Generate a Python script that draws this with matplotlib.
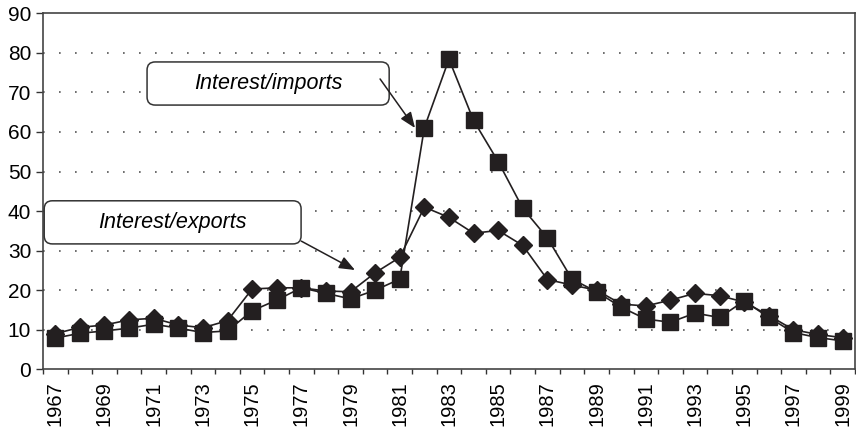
import matplotlib.pyplot as plt
from matplotlib.patches import FancyBboxPatch

years = list(range(1967, 2000))
interest_exports = [9.0, 10.6, 11.2, 12.5, 12.9, 11.2, 10.5, 12.3, 20.3, 20.6,
                    20.6, 19.8, 19.6, 24.4, 28.3, 41.0, 38.4, 34.4, 35.1, 31.3,
                    22.7, 21.3, 20.0, 16.5, 16.0, 17.5, 19.2, 18.6, 17.0, 13.6,
                    10.0, 8.8, 8.0]
interest_imports = [7.9, 9.1, 9.7, 10.4, 11.4, 10.4, 9.3, 9.7, 14.8, 17.5,
                    20.6, 19.2, 17.8, 20.0, 22.8, 61.1, 78.4, 62.9, 52.5, 40.7,
                    33.2, 22.8, 19.6, 15.7, 12.7, 11.9, 14.2, 13.1, 17.3, 13.1,
                    9.3, 8.0, 7.2]
label_years = years[::2]

plt.rcParams['font.family'] = ['Liberation Sans', 'DejaVu Sans']
ink = '#231f20'

fig = plt.figure(figsize=(8.56, 4.33), dpi=100)
ax = fig.add_axes([0.0502, 0.1471, 0.9486, 0.8222])

ax.plot(years, interest_exports, color=ink, lw=1.2, marker='D', ms=8.8,
        mec=ink, mfc=ink, zorder=3)
ax.plot(years, interest_imports, color=ink, lw=1.2, marker='s', ms=11,
        mec=ink, mfc=ink, zorder=4)

ax.set_xlim(1966.5, 1999.5)
ax.set_ylim(0, 90)
ax.set_yticks(range(0, 91, 10))
ax.set_xticks([y - 0.5 for y in years] + [1999.5])
ax.set_xticklabels([])
ax.set_xticks(label_years, minor=True)
ax.set_xticklabels([str(y) for y in label_years], minor=True, rotation=90)
ax.tick_params(axis='x', which='major', direction='out', length=3.5,
               width=1, color='#333333')
ax.tick_params(axis='x', which='minor', length=0, pad=8.5, labelsize=14.5)
ax.tick_params(axis='y', direction='out', length=5, width=1,
               color='#333333', pad=3.5, labelsize=15)

for v in range(10, 90, 10):
    ax.axhline(v, color='#555555', lw=1.2, ls=(0, (1, 8.6)), zorder=1)

for side in ['left', 'bottom', 'top', 'right']:
    ax.spines[side].set_color('#444444')
    ax.spines[side].set_linewidth(1.2)

# label boxes
for (x0, y0, x1, y1) in [(1970.73, 66.8, 1980.57, 77.7),
                         (1966.55, 31.7, 1976.99, 42.6)]:
    box = FancyBboxPatch((x0, y0), x1 - x0, y1 - y0,
                         boxstyle='round,pad=0,rounding_size=0.33',
                         mutation_aspect=6.2, fc='white', ec='#333333',
                         lw=1.1, zorder=5)
    ax.add_patch(box)

ax.text(1975.65, 72.3, 'Interest/imports', style='italic', fontsize=15.5,
        ha='center', va='center', zorder=6)
ax.text(1971.74, 37.1, 'Interest/exports', style='italic', fontsize=15.5,
        ha='center', va='center', zorder=6)

arrow = dict(arrowstyle='-|>,head_length=0.95,head_width=0.38', color=ink,
             lw=1.1, shrinkA=0, shrinkB=0)
ax.annotate('', xy=(1981.62, 61.0), xytext=(1980.2, 73.4), arrowprops=arrow,
            zorder=6)
ax.annotate('', xy=(1979.18, 25.1), xytext=(1977.0, 32.4), arrowprops=arrow,
            zorder=6)

fig.savefig('out.png', dpi=100)
